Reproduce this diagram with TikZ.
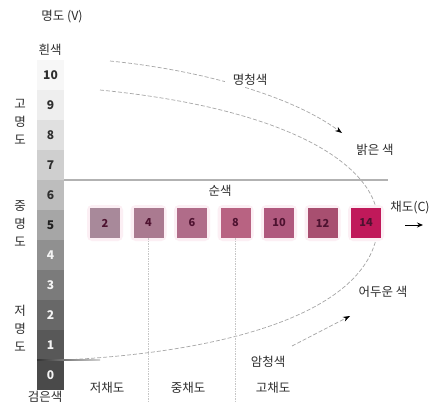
\documentclass[tikz,border=0pt]{standalone}
\usepackage{fontspec}
\setmainfont{Noto Sans CJK KR}
\usetikzlibrary{arrows.meta}
\definecolor{txt}{HTML}{2E2E2E}
\definecolor{g10}{HTML}{F7F7F7}
\definecolor{g9}{HTML}{EEEEEE}
\definecolor{g8}{HTML}{E0E0E0}
\definecolor{g7}{HTML}{CFCFCF}
\definecolor{g6}{HTML}{BDBDBD}
\definecolor{g5}{HTML}{A6A6A6}
\definecolor{g4}{HTML}{909090}
\definecolor{g3}{HTML}{7B7B7B}
\definecolor{g2}{HTML}{686868}
\definecolor{g1}{HTML}{585858}
\definecolor{g0}{HTML}{4A4A4A}
\definecolor{gt10}{HTML}{2E2E2E}
\definecolor{gt9}{HTML}{2E2E2E}
\definecolor{gt8}{HTML}{2E2E2E}
\definecolor{gt7}{HTML}{2E2E2E}
\definecolor{gt6}{HTML}{2E2E2E}
\definecolor{gt5}{HTML}{202020}
\definecolor{gt4}{HTML}{F4F4F4}
\definecolor{gt3}{HTML}{F4F4F4}
\definecolor{gt2}{HTML}{F4F4F4}
\definecolor{gt1}{HTML}{F4F4F4}
\definecolor{gt0}{HTML}{F4F4F4}
\definecolor{c2}{HTML}{A8899A}
\definecolor{c4}{HTML}{AA7A90}
\definecolor{c6}{HTML}{B06C89}
\definecolor{c8}{HTML}{B86382}
\definecolor{c10}{HTML}{B0597E}
\definecolor{c12}{HTML}{A84F70}
\definecolor{c14}{HTML}{C0195A}
\definecolor{chiptxt}{HTML}{4E1230}
\definecolor{glowc}{HTML}{FCEFF4}
\begin{document}
\begin{tikzpicture}[x=1pt,y=-1pt,
  lbl/.style={font=\fontsize{12.5}{14}\selectfont, text=txt, inner sep=1pt},
  vlbl/.style={text=txt, inner sep=1pt, align=center, font=\fontsize{12.5}{18}\selectfont},
  cellbox/.style={minimum width=27pt, minimum height=30pt, inner sep=0pt, font=\fontsize{12}{12}\selectfont\bfseries},
  chip/.style={minimum size=30pt, inner sep=0pt, font=\fontsize{11}{12}\selectfont\bfseries, text=chiptxt},
  glow/.style={minimum size=36pt, inner sep=0pt, fill=glowc, rounded corners=5pt},
  curve/.style={gray!70, line width=0.7pt, dash pattern=on 4pt off 2pt},
  arr/.style={curve, -{Stealth[length=7pt,width=5pt,black]}},
  divline/.style={gray!45, line width=0.8pt, dash pattern=on 1.5pt off 1pt}
]
\useasboundingbox (0,0) rectangle (438,407);
\fill[white] (0,0) rectangle (438,407);

% parabola (drawn first, behind everything)
\coordinate (p0) at (100,90);
\coordinate (tip) at (378,222);
\coordinate (p1) at (64,360);
\draw[curve] (p0) .. controls (300,110) and (378,170) .. (tip)
                  .. controls (378,300) and (260,350) .. (p1);

% value column
\foreach \k in {0,...,10}
  \node[cellbox, fill=g\k, text=gt\k] (v\k) at (50.5,{75+30*(10-\k)}) {\k};

% dark start of lower branch
\shade[left color=black!80, right color=gray!35] (37,359.3) rectangle (100,360.7);

% horizontal line of pure hues
\coordinate (h2) at (388,180);
\draw[gray!60, line width=1.6pt] (v7.south east) -- (v7.south east -| h2);

% chroma chips
\foreach \n [count=\i from 0] in {2,4,6,8,10,12,14} {
  \node[glow] at ({105+43.5*\i},223) {};
  \node[chip, fill=c\n] (s\n) at ({105+43.5*\i},223) {\n};
}

% chroma divisions
\coordinate (dbot) at (0,403);
\draw[divline] (s4.south) -- (s4.south |- dbot);
\draw[divline] (s8.south) -- (s8.south |- dbot);

% labels
\node[lbl] (V) at (62,17) {명도 (V)};
\node[lbl] (white) at (50,50) {흰색};
\node[lbl] (black) at (45,397) {검은색};
\node[vlbl] (hiv) at (20,122) {고\\명\\도};
\node[vlbl] (midv) at (20,224) {중\\명\\도};
\node[vlbl] (lowv) at (20,328) {저\\명\\도};
\node[lbl] (pure) at (220,191) {순색};
\node[lbl] (chroma) at (410,208) {채도(C)};
\node[lbl] (bright) at (375,150) {밝은 색};
\node[lbl] (dark) at (383,292) {어두운 색};
\node[lbl] (shade) at (268,362) {암청색};
\node[lbl] (lowc) at (107,388) {저채도};
\node[lbl] (midc) at (188,388) {중채도};
\node[lbl] (hic) at (273,388) {고채도};

% tint arrow
\coordinate (a1s) at (110,61);
\coordinate (a1e) at (342,133);
\draw[arr] (a1s) .. controls (200,70) and (290,95) .. (a1e);
\node[lbl, fill=white, inner xsep=8pt] (tint) at (250,80) {명청색};

% shade arrow
\coordinate (a2s) at (292,346);
\coordinate (a2e) at (350,316);
\draw[arr] (a2s) -- (a2e);

% chroma arrow
\coordinate (ca) at (405,225);
\coordinate (cb) at (423,225);
\draw[line width=1pt, -{Stealth[length=6pt,width=5pt]}] (ca) -- (cb);
\end{tikzpicture}
\end{document}
